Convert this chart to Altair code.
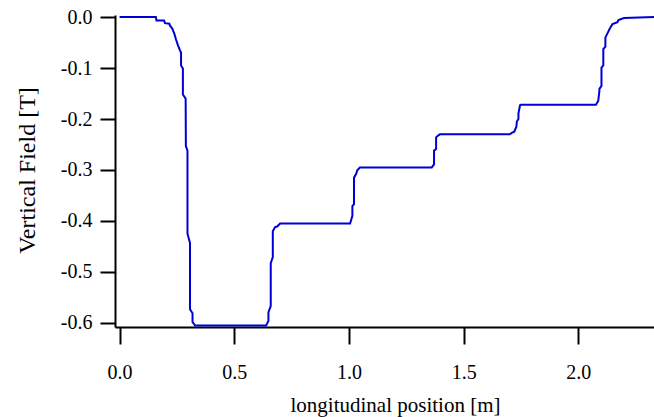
import altair as alt
import pandas as pd

# Vertical field profile along the magnet (position in m, field in T)
position_m = [
    0.000, 0.158, 0.161, 0.194, 0.198, 0.217, 0.220, 0.230, 0.239, 0.246,
    0.255, 0.262, 0.268, 0.268, 0.276, 0.276, 0.288, 0.289, 0.296, 0.296,
    0.307, 0.307, 0.318, 0.318, 0.329, 0.639, 0.649, 0.649, 0.659, 0.659,
    0.668, 0.668, 0.678, 0.687, 0.700, 1.005, 1.015, 1.015, 1.022, 1.022,
    1.031, 1.037, 1.048, 1.361, 1.371, 1.371, 1.380, 1.380, 1.390, 1.397,
    1.702, 1.710, 1.721, 1.730, 1.732, 1.739, 1.739, 1.746, 1.750, 2.077,
    2.087, 2.092, 2.092, 2.101, 2.101, 2.109, 2.109, 2.118, 2.118, 2.127,
    2.138, 2.149, 2.171, 2.175, 2.199, 2.340,
]
field_T = [
    0.000, 0.000, -0.007, -0.007, -0.012, -0.013, -0.017, -0.023, -0.033, -0.044,
    -0.056, -0.064, -0.070, -0.095, -0.101, -0.152, -0.160, -0.253, -0.262, -0.425,
    -0.443, -0.573, -0.581, -0.598, -0.605, -0.605, -0.596, -0.579, -0.567, -0.483,
    -0.471, -0.420, -0.412, -0.411, -0.405, -0.405, -0.390, -0.371, -0.367, -0.315,
    -0.308, -0.300, -0.295, -0.295, -0.289, -0.262, -0.259, -0.236, -0.232, -0.230,
    -0.230, -0.227, -0.225, -0.215, -0.205, -0.200, -0.189, -0.173, -0.172, -0.172,
    -0.164, -0.145, -0.141, -0.135, -0.099, -0.095, -0.063, -0.058, -0.040, -0.032,
    -0.022, -0.014, -0.010, -0.006, -0.002, 0.000,
]

x_ticks = [0.0, 0.5, 1.0, 1.5, 2.0]
y_ticks = [0.0, -0.1, -0.2, -0.3, -0.4, -0.5, -0.6]

df = pd.DataFrame({
    "position": position_m,
    "field": field_T,
    "order": list(range(len(position_m))),
})

FONT = "Liberation Serif"
label_expr = "replace(format(datum.value, '.1f'), '\u2212', '-')"

common_axis = dict(
    grid=False,
    domainColor="black",
    domainWidth=2,
    tickColor="black",
    tickWidth=2,
    labelFont=FONT,
    labelFontSize=20,
    labelColor="black",
    labelExpr=label_expr,
    labelOverlap=False,
    labelFlush=False,
    titleFont=FONT,
    titleFontWeight="normal",
    titleColor="black",
)

x_axis = alt.Axis(
    values=x_ticks,
    title="longitudinal position [m]",
    tickSize=17,
    labelPadding=18,
    titleFontSize=21,
    titleX=280,
    titleY=84,
    titleAlign="center",
    titleBaseline="alphabetic",
    **common_axis,
)

y_axis = alt.Axis(
    values=y_ticks,
    title="Vertical Field [T]",
    tickSize=15,
    labelPadding=8,
    titleFontSize=24,
    titleAngle=270,
    titleX=-88,
    titleY=155,
    titleAlign="center",
    titleBaseline="middle",
    **common_axis,
)

chart = (
    alt.Chart(df)
    .mark_line(color="#0000d4", strokeWidth=2, clip=True, interpolate="linear")
    .encode(
        x=alt.X("position:Q",
                scale=alt.Scale(domain=[-0.02, 2.33], nice=False, zero=False),
                axis=x_axis),
        y=alt.Y("field:Q",
                scale=alt.Scale(domain=[-0.608, 0.004], nice=False, zero=False),
                axis=y_axis),
        order="order:Q",
    )
    .properties(
        width=539,
        height=312,
        autosize="none",
        padding={"left": 115, "top": 15, "right": 0, "bottom": 90},
        background="white",
    )
    .configure_view(strokeWidth=0)
)

chart.save("out.html", embed_options={"renderer": "svg", "actions": False})
